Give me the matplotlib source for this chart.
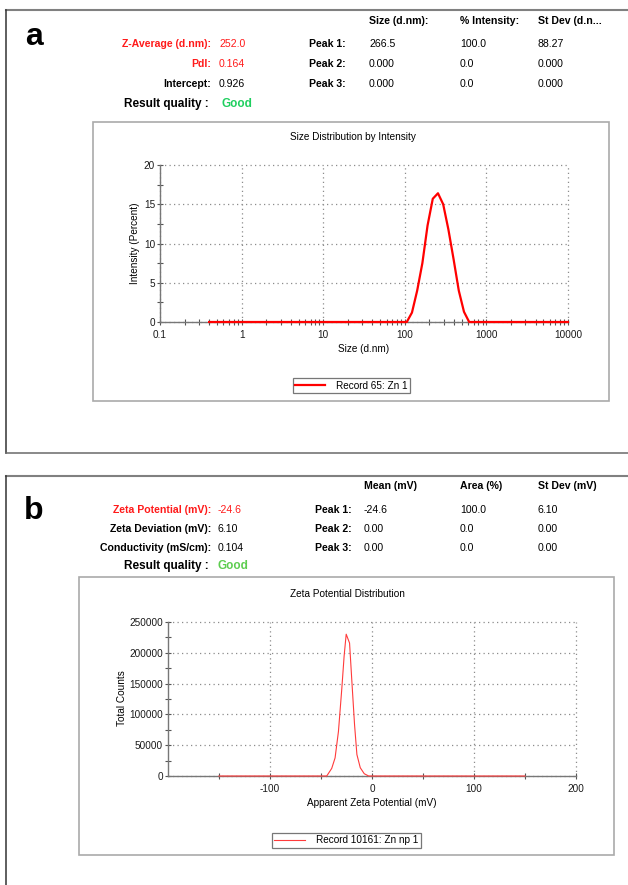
import matplotlib

matplotlib.use("Agg")
import matplotlib.pyplot as plt
from matplotlib.patches import Rectangle
from matplotlib.ticker import FixedLocator, NullFormatter

plt.rcParams["font.family"] = ["Liberation Sans", "DejaVu Sans"]
plt.rcParams["axes.unicode_minus"] = False

W, H = 628, 885

# panel a: size distribution (DLS)
size_nm = [0.4, 105.7, 122.4, 141.8, 164.2, 190.1, 220.2, 255.0, 295.3, 342.0, 396.1, 458.7, 531.2, 615.1, 10000]
intensity_pct = [0, 0, 1.2, 4.0, 7.5, 12.3, 15.7, 16.4, 15.0, 11.8, 8.0, 4.0, 1.3, 0, 0]
size_ticks = [0.1, 1, 10, 100, 1000, 10000]
size_tick_labels = ["0.1", "1", "10", "100", "1000", "10000"]
intensity_ticks = [0, 5, 10, 15, 20]

# panel b: zeta potential distribution
zeta_mv = [-150, -44.4, -39.5, -36.2, -32.9, -29.6, -27.3, -25.3, -22.0, -19.7, -17.1, -14.8, -11.5, -7.6, -3.3, 150]
total_counts = [0, 0, 12300, 29400, 72300, 141900, 195400, 230200, 215800, 152600, 83000, 34800, 13400, 3700, 0, 0]
zeta_ticks = [-100, 0, 100, 200]
zeta_minor = [-150, -50, 50, 150]
count_ticks = [0, 50000, 100000, 150000, 200000, 250000]

# result tables
headers_a = ["Size (d.nm):", "% Intensity:", "St Dev (d.n..."]
summary_a = [("Z-Average (d.nm):", "252.0", True), ("PdI:", "0.164", True), ("Intercept:", "0.926", False)]
peaks_a = [["266.5", "100.0", "88.27"], ["0.000", "0.0", "0.000"], ["0.000", "0.0", "0.000"]]

headers_b = ["Mean (mV)", "Area (%)", "St Dev (mV)"]
summary_b = [("Zeta Potential (mV):", "-24.6", True), ("Zeta Deviation (mV):", "6.10", False),
             ("Conductivity (mS/cm):", "0.104", False)]
peaks_b = [["-24.6", "100.0", "6.10"], ["0.00", "0.0", "0.00"], ["0.00", "0.0", "0.00"]]

RED = "#ff1a1a"
FS_TAB = 7.6
FS_CHART = 7.2


def px_rect(x0, y0, x1, y1):
    return [x0 / W, 1 - y1 / H, (x1 - x0) / W, (y1 - y0) / H]


def draw_table(ov, y_head, rows_y, lab_r, val_l, peak_r, cols, headers, summary, peaks, good_x, good_color, q_y):
    for cx, h in zip(cols, headers):
        ov.text(cx, y_head, h, fontsize=FS_TAB, fontweight="bold", va="center", ha="left")
    for i, (ry, (lab, val, red)) in enumerate(zip(rows_y, summary)):
        col = RED if red else "black"
        ov.text(lab_r, ry, lab, fontsize=FS_TAB, fontweight="bold", color=col, ha="right", va="center")
        ov.text(val_l, ry, val, fontsize=FS_TAB, color=col, ha="left", va="center")
        ov.text(peak_r, ry, f"Peak {i + 1}:", fontsize=FS_TAB, fontweight="bold", ha="right", va="center")
        for cx, v in zip(cols, peaks[i]):
            ov.text(cx, ry, v, fontsize=FS_TAB, ha="left", va="center")
    ov.text(209, q_y, "Result quality :", fontsize=8.5, fontweight="bold", ha="right", va="center")
    ov.text(good_x, q_y, "Good", fontsize=8.5, fontweight="bold", color=good_color, ha="left", va="center")


def style_axes(ax):
    for side in ["top", "right"]:
        ax.spines[side].set_visible(False)
    for side in ["left", "bottom"]:
        ax.spines[side].set_color("#777777")
        ax.spines[side].set_linewidth(1.0)
    ax.set_facecolor("none")
    ax.grid(True, which="major", color="#8c8c8c", linestyle=(0, (1, 2.6)), linewidth=0.9)
    for gl in ax.get_xgridlines() + ax.get_ygridlines():
        gl.set_clip_on(False)
    ax.tick_params(which="both", direction="inout", colors="#555555", labelcolor="#1a1a1a",
                   labelsize=FS_CHART, width=0.8)
    ax.tick_params(which="major", length=5)
    ax.tick_params(which="minor", length=4)
    ax.tick_params(axis="y", pad=1)
    ax.tick_params(axis="x", pad=3)


fig = plt.figure(figsize=(W / 100, H / 100), dpi=100)
ov = fig.add_axes([0, 0, 1, 1])
ov.set_xlim(0, W)
ov.set_ylim(H, 0)
ov.axis("off")

# outer panel frames
ov.plot([6, W], [10, 10], color="#808080", lw=1.5)
ov.plot([6, 6], [10, 453], color="#333333", lw=1.1)
ov.plot([6, W], [453, 453], color="#6a6a6a", lw=1.1)
ov.plot([6, W], [476, 476], color="#808080", lw=1.5)
ov.plot([6, 6], [476, H], color="#333333", lw=1.1)

# inner chart boxes
ov.add_patch(Rectangle((93, 122), 516, 279, fill=False, edgecolor="#aaaaaa", lw=1.2))
ov.add_patch(Rectangle((79, 577), 535, 278, fill=False, edgecolor="#aaaaaa", lw=1.2))

ov.text(34, 37, "a", fontsize=23, fontweight="bold", ha="center", va="center")
ov.text(34, 511, "b", fontsize=23, fontweight="bold", ha="center", va="center")

draw_table(ov, 21, [44, 64, 84], 211, 219, 346, [369, 460, 538], headers_a, summary_a, peaks_a,
           222, "#1fcf5f", 104)
draw_table(ov, 486, [510, 529, 548], 211, 218, 352, [364, 460, 538], headers_b, summary_b, peaks_b,
           218, "#5dcd4f", 566)

# panel a chart
ax1 = fig.add_axes(px_rect(160, 165, 568, 322))
ax1.plot(size_nm, intensity_pct, color="#ff0000", lw=1.6, label="Record 65: Zn 1", clip_on=False, zorder=3)
ax1.set_xscale("log")
ax1.set_xlim(0.1, 10000)
ax1.set_ylim(0, 20)
ax1.set_xticks(size_ticks, size_tick_labels)
ax1.xaxis.set_minor_locator(FixedLocator([m * 10.0 ** e for e in range(-1, 4) for m in range(2, 10)]))
ax1.xaxis.set_minor_formatter(NullFormatter())
ax1.set_yticks(intensity_ticks)
ax1.yaxis.set_minor_locator(FixedLocator([2.5, 7.5, 12.5, 17.5]))
style_axes(ax1)
ax1.set_title("Size Distribution by Intensity", fontsize=FS_CHART, x=0.473, y=1.178, pad=0, va="center")
ax1.set_xlabel("Size (d.nm)", fontsize=FS_CHART, va="center")
ax1.xaxis.set_label_coords(0.5, -0.172)
ax1.set_ylabel("Intensity (Percent)", fontsize=FS_CHART, va="center")
ax1.yaxis.set_label_coords(-0.061, 0.503)
leg1 = ax1.legend(loc="center", bbox_to_anchor=(351.5 / W, 1 - 386 / H), bbox_transform=fig.transFigure,
                  fontsize=FS_CHART, fancybox=False, edgecolor="#777777", framealpha=1, borderpad=0.25,
                  handlelength=3.0, handletextpad=1.1, borderaxespad=0)
leg1.get_frame().set_linewidth(0.9)

# panel b chart
ax2 = fig.add_axes(px_rect(168, 622, 576, 776))
ax2.plot(zeta_mv, total_counts, color="#ff3b3b", lw=0.8, label="Record 10161: Zn np 1", clip_on=False, zorder=3)
ax2.set_xlim(-200, 200)
ax2.set_ylim(0, 250000)
ax2.set_xticks(zeta_ticks)
ax2.xaxis.set_minor_locator(FixedLocator(zeta_minor))
ax2.set_yticks(count_ticks)
ax2.yaxis.set_minor_locator(FixedLocator([25000, 75000, 125000, 175000, 225000]))
style_axes(ax2)
ax2.set_title("Zeta Potential Distribution", fontsize=FS_CHART, x=0.439, y=1.182, pad=0, va="center")
ax2.set_xlabel("Apparent Zeta Potential (mV)", fontsize=FS_CHART, va="center")
ax2.xaxis.set_label_coords(0.5, -0.175)
ax2.set_ylabel("Total Counts", fontsize=FS_CHART, va="center")
ax2.yaxis.set_label_coords(-0.113, 0.506)
leg2 = ax2.legend(loc="center", bbox_to_anchor=(346.5 / W, 1 - 840 / H), bbox_transform=fig.transFigure,
                  fontsize=FS_CHART, fancybox=False, edgecolor="#777777", framealpha=1, borderpad=0.25,
                  handlelength=3.1, handletextpad=1.1, borderaxespad=0)
leg2.get_frame().set_linewidth(0.9)

fig.savefig("out.png", dpi=100)
